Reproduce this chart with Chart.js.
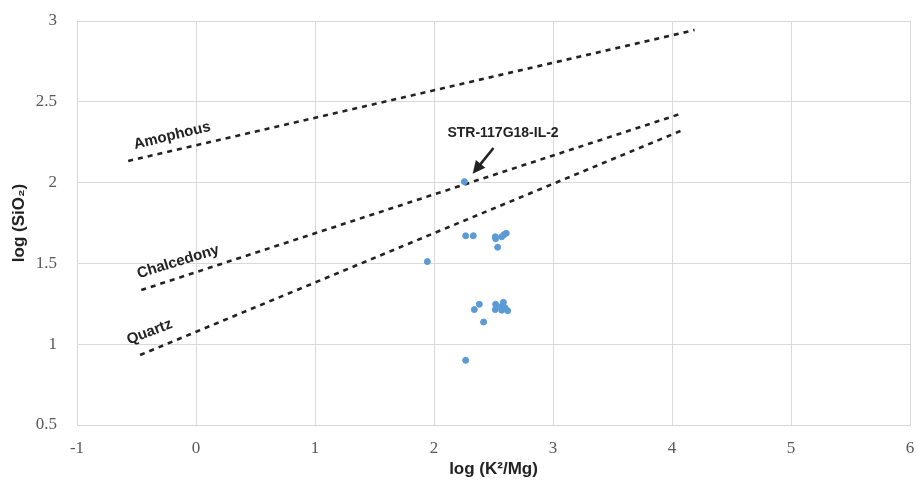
<!DOCTYPE html>
<html><head><meta charset="utf-8">
<script src="https://cdn.jsdelivr.net/npm/chart.js@4/dist/chart.umd.min.js"></script>
<style>html,body{margin:0;padding:0;background:#fff}#wrap{width:919px;height:480px}</style>
</head><body><div id="wrap"><canvas id="c" width="919" height="480"></canvas></div>
<script>
const sampleX = [2.255,2.266,2.33,2.515,2.518,2.569,2.588,2.607,2.535,1.944,2.381,2.339,2.417,2.518,2.515,2.563,2.583,2.569,2.597,2.619,2.266];
const sampleY = [2.006,1.671,1.671,1.665,1.653,1.665,1.678,1.686,1.600,1.511,1.247,1.214,1.137,1.247,1.214,1.232,1.259,1.210,1.226,1.207,0.900];
const amorphousX = [-0.57, 4.19];
const amorphousY = [2.134, 2.944];
const chalcedonyX = [-0.46, 4.07];
const chalcedonyY = [1.335, 2.425];
const quartzX = [-0.47, 4.09];
const quartzY = [0.933, 2.325];
const xTicks = [-1,0,1,2,3,4,5,6];
const yTicks = [0.5,1,1.5,2,2.5,3];
const lineLabels = ["Amophous","Chalcedony","Quartz"];
const annotText = "STR-117G18-IL-2";

const pts = (xs, ys) => xs.map((x,i)=>({x, y: ys[i]}));
const lineDs = (label, xs, ys) => ({label, data: pts(xs,ys), showLine:true, borderColor:'#222', borderWidth:2.6, borderDash:[5,5], pointRadius:0, fill:false});

const labelPlugin = {
  id:'labels',
  afterDatasetsDraw(chart){
    const ctx = chart.ctx, xs = chart.scales.x, ys = chart.scales.y;
    ctx.save();
    ctx.fillStyle = '#222';
    ctx.font = 'bold 15px "Liberation Sans", Arial, sans-serif';
    ctx.textAlign='center'; ctx.textBaseline='middle';
    const place = [[-0.2,2.29,-13.5],[-0.15,1.51,-17],[-0.39,1.075,-21]];
    place.forEach((p,i)=>{
      ctx.save();
      ctx.translate(xs.getPixelForValue(p[0]), ys.getPixelForValue(p[1]));
      ctx.rotate(p[2]*Math.PI/180);
      ctx.fillText(lineLabels[i],0,0);
      ctx.restore();
    });
    ctx.font = 'bold 14px "Liberation Sans", Arial, sans-serif';
    ctx.fillText(annotText, xs.getPixelForValue(2.58), ys.getPixelForValue(2.305));
    const x0 = xs.getPixelForValue(2.50), y0 = ys.getPixelForValue(2.214);
    const x1 = xs.getPixelForValue(2.325), y1 = ys.getPixelForValue(2.055);
    ctx.strokeStyle='#222'; ctx.lineWidth=2.5;
    const ang = Math.atan2(y1-y0, x1-x0);
    const hl = 14;
    ctx.beginPath(); ctx.moveTo(x0,y0); ctx.lineTo(x1-Math.cos(ang)*hl*0.7, y1-Math.sin(ang)*hl*0.7); ctx.stroke();
    ctx.beginPath();
    ctx.moveTo(x1,y1);
    ctx.lineTo(x1-hl*Math.cos(ang-0.45), y1-hl*Math.sin(ang-0.45));
    ctx.lineTo(x1-hl*Math.cos(ang+0.45), y1-hl*Math.sin(ang+0.45));
    ctx.closePath(); ctx.fill();
    ctx.restore();
  }
};

new Chart(document.getElementById('c'), {
  type:'scatter',
  data:{datasets:[
    {label:'Samples', data: pts(sampleX, sampleY), backgroundColor:'#5b9bd5', borderColor:'#5b9bd5', pointRadius:3, pointHoverRadius:3},
    lineDs(lineLabels[0], amorphousX, amorphousY),
    lineDs(lineLabels[1], chalcedonyX, chalcedonyY),
    lineDs(lineLabels[2], quartzX, quartzY)
  ]},
  options:{
    responsive:false, animation:false,
    layout:{padding:{top:21,right:9,left:0,bottom:0}},
    plugins:{legend:{display:false}, tooltip:{enabled:false}},
    scales:{
      x:{type:'linear', min:-1, max:6,
        afterBuildTicks(s){ s.ticks = xTicks.map(v=>({value:v})); },
        afterFit(s){ s.height = 55; s.paddingLeft = 0; s.paddingRight = 0; },
        grid:{color:'#d9d9d9', drawTicks:false, lineWidth:1},
        border:{color:'#d9d9d9'},
        ticks:{padding:13, color:'#595959', callback:v=>String(v), font:{family:'"Liberation Serif", "Times New Roman", serif', size:17}},
        title:{display:true, text:'log (K²/Mg)', color:'#222', padding:{top:-4,bottom:0}, font:{family:'"Liberation Sans", Arial, sans-serif', size:17, weight:'bold'}}
      },
      y:{type:'linear', min:0.5, max:3,
        afterBuildTicks(s){ s.ticks = yTicks.map(v=>({value:v})); },
        afterFit(s){ s.width = 77; s.paddingTop = 0; s.paddingBottom = 0; },
        grid:{color:'#d9d9d9', drawTicks:false, lineWidth:1},
        border:{color:'#d9d9d9'},
        ticks:{padding:20, color:'#595959', callback:v=>String(v), font:{family:'"Liberation Serif", "Times New Roman", serif', size:17}},
        title:{display:true, text:'log (SiO₂)', color:'#222', padding:{top:9,bottom:0}, font:{family:'"Liberation Sans", Arial, sans-serif', size:17, weight:'bold'}}
      }
    }
  },
  plugins:[labelPlugin]
});
</script></body></html>
